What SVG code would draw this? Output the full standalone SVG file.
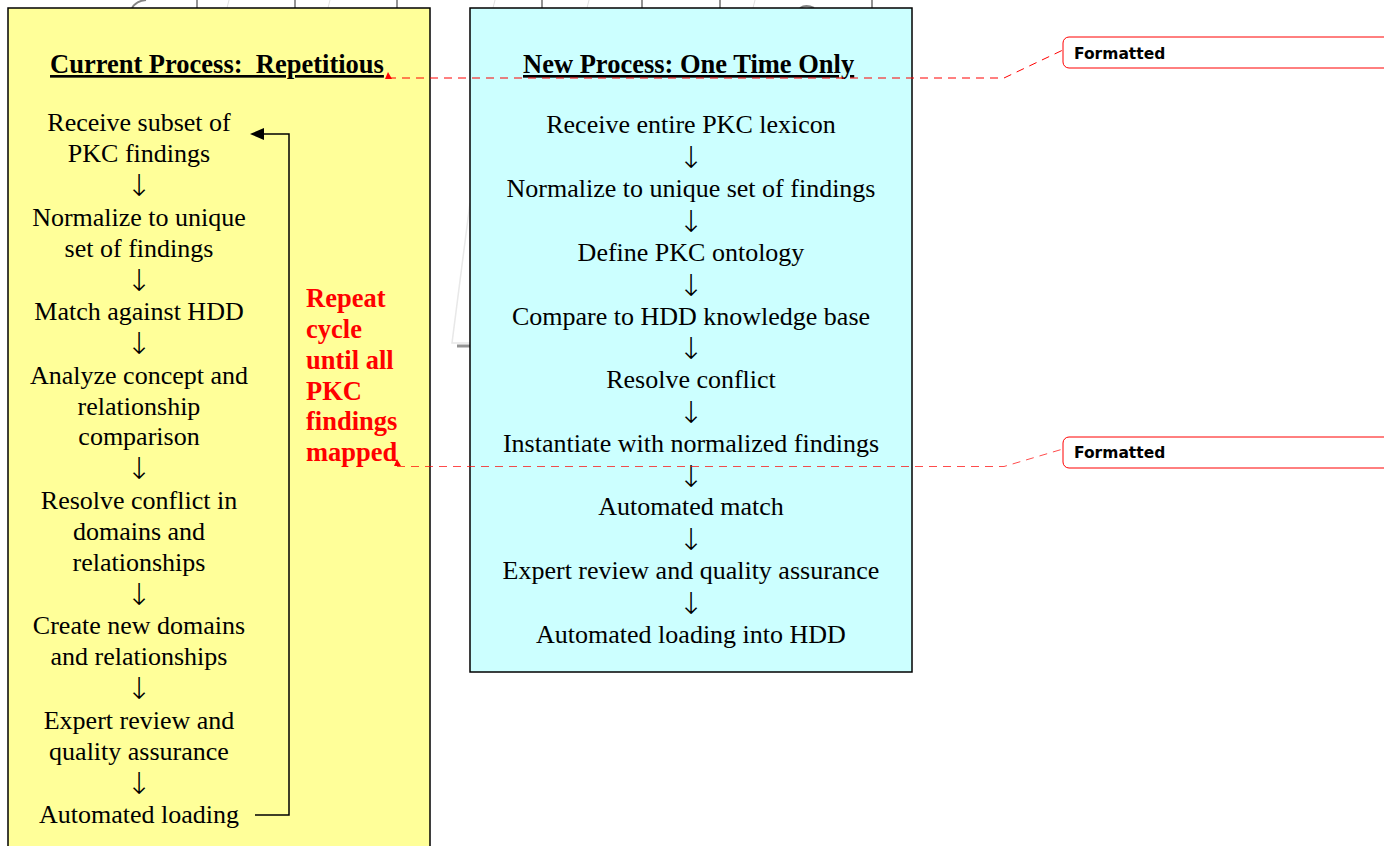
<svg xmlns="http://www.w3.org/2000/svg" width="1384" height="846" viewBox="0 0 1384 846">
<style>
.body{font-family:"Liberation Serif","Times New Roman",serif;font-size:26px;fill:#000;text-anchor:middle}
.arr{font-family:"DejaVu Sans",sans-serif;font-size:30px;font-weight:200;fill:#000;text-anchor:middle}
.title{font-family:"Liberation Serif","Times New Roman",serif;font-size:26.5px;font-weight:bold;fill:#000;text-decoration:underline;white-space:pre}
.red{font-family:"Liberation Serif","Times New Roman",serif;font-size:26.5px;font-weight:bold;fill:#FF0000}
.fmt{font-family:"DejaVu Sans","Verdana",sans-serif;font-size:15.5px;font-weight:bold;fill:#000}
.dash{fill:none;stroke:#FF0000;stroke-width:1;stroke-dasharray:8 6}
</style>
<rect width="1384" height="846" fill="#fff"/>
<g id="background" opacity="0.9">
<path d="M132,8 Q136,1 146,0" fill="none" stroke="#777" stroke-width="2"/>
<line x1="197" y1="0" x2="197" y2="8" stroke="#888" stroke-width="2"/>
<line x1="295" y1="0" x2="295" y2="8" stroke="#888" stroke-width="2"/>
<line x1="397" y1="0" x2="397" y2="8" stroke="#888" stroke-width="2"/>
<line x1="542" y1="0" x2="542" y2="8" stroke="#888" stroke-width="2"/>
<line x1="642" y1="0" x2="642" y2="8" stroke="#888" stroke-width="2"/>
<line x1="720" y1="0" x2="720" y2="8" stroke="#888" stroke-width="2"/>
<line x1="872" y1="0" x2="872" y2="8" stroke="#888" stroke-width="2"/>
<path d="M800,8 Q806,4 814,8" fill="none" stroke="#777" stroke-width="2"/>
<line x1="227" y1="8" x2="229" y2="0" stroke="#ddd"/>
<line x1="328" y1="8" x2="330" y2="0" stroke="#ddd"/>
<line x1="493" y1="8" x2="495" y2="0" stroke="#ddd"/>
<line x1="587" y1="8" x2="589" y2="0" stroke="#ddd"/>
<line x1="753" y1="8" x2="755" y2="0" stroke="#ddd"/>
<polyline points="470,203 452,343 470,343" fill="none" stroke="#e6e6e6" stroke-width="1.5"/>
<line x1="457" y1="346" x2="470" y2="346" stroke="#888" stroke-width="3"/>
</g>
<g id="current-process">
<rect x="8" y="8" width="422" height="850" fill="#FFFF99" stroke="#000" stroke-width="1.5"/>
<text class="title" x="50" y="73" xml:space="preserve">Current Process:  Repetitious</text>
<text class="body" x="139" y="131">Receive subset of</text>
<text class="body" x="139" y="162">PKC findings</text>
<text class="arr" x="139" y="196">↓</text>
<text class="body" x="139" y="226">Normalize to unique</text>
<text class="body" x="139" y="257">set of findings</text>
<text class="arr" x="139" y="291">↓</text>
<text class="body" x="139" y="320">Match against HDD</text>
<text class="arr" x="139" y="354">↓</text>
<text class="body" x="139" y="384">Analyze concept and</text>
<text class="body" x="139" y="415">relationship</text>
<text class="body" x="139" y="445">comparison</text>
<text class="arr" x="139" y="479">↓</text>
<text class="body" x="139" y="509">Resolve conflict in</text>
<text class="body" x="139" y="540">domains and</text>
<text class="body" x="139" y="571">relationships</text>
<text class="arr" x="139" y="605">↓</text>
<text class="body" x="139" y="634">Create new domains</text>
<text class="body" x="139" y="665">and relationships</text>
<text class="arr" x="139" y="699">↓</text>
<text class="body" x="139" y="729">Expert review and</text>
<text class="body" x="139" y="760">quality assurance</text>
<text class="arr" x="139" y="794">↓</text>
<text class="body" x="139" y="823">Automated loading</text>
</g>
<g id="repeat-label">
<text class="red" x="306" y="307">Repeat</text>
<text class="red" x="306" y="338">cycle</text>
<text class="red" x="306" y="369">until all</text>
<text class="red" x="306" y="400">PKC</text>
<text class="red" x="306" y="430">findings</text>
<text class="red" x="306" y="461">mapped</text>
</g>
<g id="new-process">
<rect x="470" y="8" width="442" height="664" fill="#CCFFFF" stroke="#000" stroke-width="1.5"/>
<text class="title" x="523" y="73">New Process: One Time Only</text>
<text class="body" x="691" y="133">Receive entire PKC lexicon</text>
<text class="arr" x="691" y="168">↓</text>
<text class="body" x="691" y="197">Normalize to unique set of findings</text>
<text class="arr" x="691" y="232">↓</text>
<text class="body" x="691" y="261">Define PKC ontology</text>
<text class="arr" x="691" y="296">↓</text>
<text class="body" x="691" y="325">Compare to HDD knowledge base</text>
<text class="arr" x="691" y="359">↓</text>
<text class="body" x="691" y="388">Resolve conflict</text>
<text class="arr" x="691" y="423">↓</text>
<text class="body" x="691" y="452">Instantiate with normalized findings</text>
<text class="arr" x="691" y="487">↓</text>
<text class="body" x="691" y="515">Automated match</text>
<text class="arr" x="691" y="550">↓</text>
<text class="body" x="691" y="579">Expert review and quality assurance</text>
<text class="arr" x="691" y="614">↓</text>
<text class="body" x="691" y="643">Automated loading into HDD</text>
</g>
<g id="comment-1">
<rect x="1063" y="37" width="330" height="31" rx="6" fill="#fff" stroke="#FF0000" stroke-width="1"/>
<text class="fmt" x="1074" y="59">Formatted</text>
</g>
<g id="comment-2">
<rect x="1063" y="437" width="330" height="31" rx="6" fill="#fff" stroke="#FF0000" stroke-width="1"/>
<text class="fmt" x="1074" y="458">Formatted</text>
</g>
<g id="connectors">
<polyline points="255,815 289,815 289,134 262,134" fill="none" stroke="#000" stroke-width="1.5"/>
<path d="M250,134 L264,128 L264,140 Z" fill="#000"/>
<polyline class="dash" points="388,78 1004,78 1063,50"/>
<path d="M385,79 L388,72 L392,79 Z" fill="#FF0000"/>
<polyline class="dash" points="397,466.5 1004,466.5 1063,449" stroke-opacity="0.7"/>
<path d="M394,466 L397,459 L401,466 Z" fill="#FF0000"/>
</g>
</svg>
